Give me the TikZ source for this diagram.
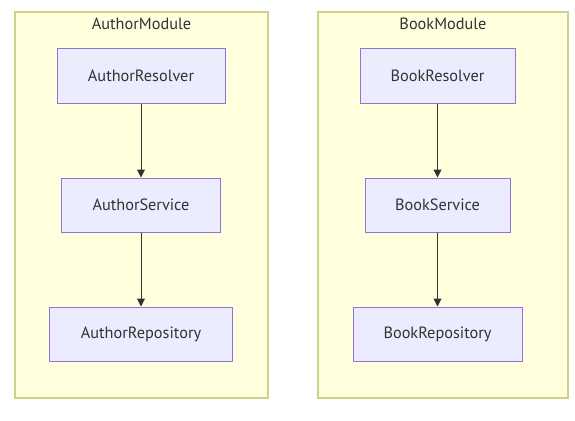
\documentclass[tikz,border=0pt]{standalone}
\usepackage{fontspec}
\setmainfont{PT Sans}
\usepackage{xcolor}
\usetikzlibrary{positioning,arrows.meta}
\definecolor{clusterfill}{HTML}{FFFFDE}
\definecolor{clusterline}{HTML}{CFD08A}
\definecolor{boxfill}{HTML}{ECECFF}
\definecolor{boxline}{HTML}{9370DB}
\definecolor{edgeline}{HTML}{333333}
\tikzset{
  modbox/.style={draw=clusterline, fill=clusterfill, line width=1.5pt},
  svcbox/.style={draw=boxline, fill=boxfill, line width=1pt, minimum height=54pt,
    font=\fontsize{16.3}{19}\selectfont, text=edgeline},
  dep/.style={edgeline, line width=1pt, -{Triangle[length=8pt,width=8pt]}}
}
\begin{document}
\begin{tikzpicture}[x=1pt,y=-1pt]
    \useasboundingbox (0,0) rectangle (575,420);
    \fill [white] (0,0) rectangle (575,420);
    % modules
    \draw [modbox] (15,12) rectangle (268,398);
    \draw [modbox] (318,12) rectangle (568,398);
    \node (authormod) [font=\fontsize{16.3}{19}\selectfont, text=edgeline] at (141.5,24) {AuthorModule};
    \node (bookmod) [font=\fontsize{16.3}{19}\selectfont, text=edgeline] at (443,24) {BookModule};
    % author side
    \node (aresolver) [svcbox, minimum width=168pt] at (141,76) {AuthorResolver};
    \node (aservice) [svcbox, minimum width=159pt] at (141,205) {AuthorService};
    \node (arepo) [svcbox, minimum width=183pt] at (141,334) {AuthorRepository};
    % book side
    \node (bresolver) [svcbox, minimum width=155pt] at (437.5,76) {BookResolver};
    \node (bservice) [svcbox, minimum width=145pt] at (437.5,205) {BookService};
    \node (brepo) [svcbox, minimum width=169pt] at (437.5,334) {BookRepository};
    % edges
    \draw [dep] (aresolver) -- (aservice);
    \draw [dep] (aservice) -- (arepo);
    \draw [dep] (bresolver) -- (bservice);
    \draw [dep] (bservice) -- (brepo);
\end{tikzpicture}
\end{document}
